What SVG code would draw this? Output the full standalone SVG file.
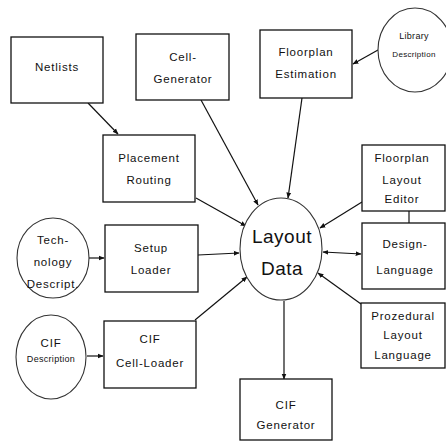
<svg xmlns="http://www.w3.org/2000/svg" width="446" height="446" viewBox="0 0 446 446">
<defs>
<marker id="ah" viewBox="0 0 10 10" refX="9" refY="5" markerWidth="6" markerHeight="6" orient="auto-start-reverse" markerUnits="userSpaceOnUse">
<path d="M0,1 L10,5 L0,9 z" fill="#111"/>
</marker>
<style>
.box{fill:#fff;stroke:#111;stroke-width:1.3}
.ell{fill:#fff;stroke:#333;stroke-width:1.1}
.t{font-family:"Liberation Sans",Arial,sans-serif;font-size:11.5px;letter-spacing:0.8px;fill:#111;text-anchor:middle}
.s{font-size:9px;letter-spacing:0.3px}
.big{font-size:19px;letter-spacing:0.5px}
.c{stroke:#111;stroke-width:1.2;fill:none}
</style>
</defs>
<rect width="446" height="446" fill="#fff"/>
<g id="connectors">
<line class="c" x1="88" y1="103" x2="118" y2="134" marker-end="url(#ah)"/>
<line class="c" x1="201" y1="100" x2="258" y2="205" marker-end="url(#ah)"/>
<line class="c" x1="302" y1="98" x2="288" y2="198" marker-end="url(#ah)"/>
<line class="c" x1="196" y1="198" x2="246" y2="226" marker-end="url(#ah)"/>
<line class="c" x1="198" y1="255" x2="239" y2="253" marker-end="url(#ah)"/>
<line class="c" x1="195" y1="320" x2="247" y2="277" marker-end="url(#ah)"/>
<line class="c" x1="378" y1="50" x2="353" y2="64" marker-end="url(#ah)"/>
<line class="c" x1="88" y1="258" x2="104" y2="258" marker-end="url(#ah)"/>
<line class="c" x1="87" y1="356" x2="103" y2="356" marker-end="url(#ah)"/>
<line class="c" x1="362" y1="202" x2="320" y2="228" marker-end="url(#ah)"/>
<line class="c" x1="323" y1="252" x2="361" y2="254" marker-start="url(#ah)" marker-end="url(#ah)"/>
<line class="c" x1="361" y1="304" x2="318" y2="273" marker-end="url(#ah)"/>
<line class="c" x1="284" y1="301" x2="284" y2="379" marker-end="url(#ah)"/>
<line class="c" x1="409" y1="211" x2="409" y2="223"/>
</g>
<g id="netlists"><rect class="box" x="11" y="37" width="92" height="66"/><text class="t" x="57" y="71">Netlists</text></g>
<g id="cell-generator"><rect class="box" x="136" y="34" width="93" height="66"/><text class="t" x="183" y="61">Cell-</text><text class="t" x="183" y="83">Generator</text></g>
<g id="floorplan-estimation"><rect class="box" x="260" y="30" width="92" height="68"/><text class="t" x="306" y="56">Floorplan</text><text class="t" x="306" y="78">Estimation</text></g>
<g id="library-description"><ellipse class="ell" cx="415" cy="50" rx="37" ry="42"/><text class="t s" x="414" y="39">Library</text><text class="t s" x="414" y="57" style="font-size:8px">Description</text></g>
<g id="placement-routing"><rect class="box" x="103" y="135" width="92" height="67"/><text class="t" x="149" y="162">Placement</text><text class="t" x="149" y="184">Routing</text></g>
<g id="technology-description"><ellipse class="ell" cx="53" cy="258" rx="36" ry="40"/><text class="t" x="53" y="244">Tech-</text><text class="t" x="53" y="266">nology</text><text class="t" x="53" y="288">Descript.</text></g>
<g id="setup-loader"><rect class="box" x="105" y="225" width="93" height="67"/><text class="t" x="151" y="252">Setup</text><text class="t" x="151" y="274">Loader</text></g>
<g id="cif-description"><ellipse class="ell" cx="51" cy="357" rx="35" ry="42"/><text class="t" x="51" y="347">CIF</text><text class="t s" x="51" y="362">Description</text></g>
<g id="cif-cell-loader"><rect class="box" x="104" y="321" width="92" height="67"/><text class="t" x="150" y="343">CIF</text><text class="t" x="150" y="367">Cell-Loader</text></g>
<g id="layout-data"><ellipse class="ell" cx="281" cy="249" rx="41" ry="51"/><text class="t big" x="282" y="243">Layout</text><text class="t big" x="282" y="275">Data</text></g>
<g id="floorplan-layout-editor"><rect class="box" x="362" y="145" width="83" height="66"/><text class="t" x="402" y="162">Floorplan</text><text class="t" x="402" y="184">Layout</text><text class="t" x="402" y="203">Editor</text></g>
<g id="design-language"><rect class="box" x="362" y="223" width="83" height="66"/><text class="t" x="405" y="248">Design-</text><text class="t" x="405" y="274">Language</text></g>
<g id="prozedural-layout-language"><rect class="box" x="361" y="303" width="84" height="65"/><text class="t" x="403" y="320">Prozedural</text><text class="t" x="403" y="339">Layout</text><text class="t" x="403" y="359">Language</text></g>
<g id="cif-generator"><rect class="box" x="240" y="379" width="92" height="61"/><text class="t" x="286" y="409">CIF</text><text class="t" x="286" y="429">Generator</text></g>
</svg>
